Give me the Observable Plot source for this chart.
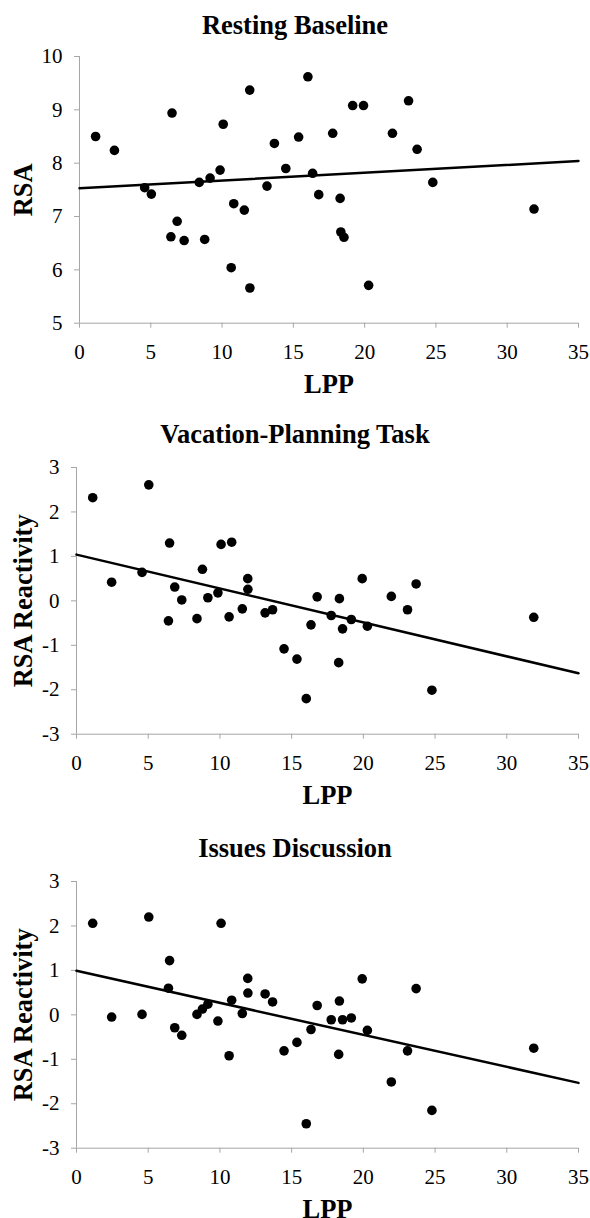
<!DOCTYPE html>
<html><head><meta charset="utf-8">
<script src="https://cdn.jsdelivr.net/npm/d3@7"></script>
<script src="https://cdn.jsdelivr.net/npm/@observablehq/plot@0.6"></script>
<style>
html,body{margin:0;padding:0;background:#fff;overflow:hidden}
#root{position:relative;width:590px;height:1218px;font-family:"Liberation Serif","Times New Roman",serif}
.title{position:absolute;left:0;width:590px;text-align:center;font-weight:bold;font-size:26.5px;line-height:30px;color:#000}
.panel{position:absolute;left:0}
.panel [aria-label="x-axis label"], .panel [aria-label="y-axis label"]{font-weight:bold;font-size:26.5px}
</style></head><body><div id="root"></div>
<script>
// LPP (shared x values for all three panels)
const lpp = [1.13, 2.45, 4.57, 5.04, 6.49, 6.41, 6.85, 7.34, 8.40, 8.78, 9.16, 9.86, 10.08, 10.64, 10.82, 11.56, 11.94, 11.95, 13.15, 13.67, 14.47, 15.37, 16.02, 16.35, 16.78, 17.76, 18.28, 18.33, 18.55, 19.16, 19.92, 20.28, 21.95, 23.08, 23.68, 24.78, 31.88];
// RSA values per panel
const restingRSA = [8.50, 8.24, 7.54, 7.42, 8.94, 6.62, 6.91, 6.55, 7.64, 6.57, 7.72, 7.87, 8.73, 6.04, 7.24, 7.12, 9.37, 5.66, 7.57, 8.37, 7.90, 8.49, 9.62, 7.81, 7.41, 8.56, 7.34, 6.71, 6.61, 9.08, 9.08, 5.71, 8.56, 9.17, 8.26, 7.64, 7.14];
const vacationRSA = [2.32, 0.42, 0.64, 2.61, 1.30, -0.45, 0.31, 0.02, -0.40, 0.71, 0.07, 0.18, 1.27, -0.36, 1.32, -0.18, 0.50, 0.26, -0.27, -0.20, -1.08, -1.31, -2.20, -0.54, 0.09, -0.33, -1.39, 0.05, -0.63, -0.42, 0.50, -0.57, 0.10, -0.20, 0.38, -2.01, -0.37];
const issuesRSA = [2.06, -0.05, 0.01, 2.20, 1.22, 0.60, -0.29, -0.46, 0.01, 0.13, 0.24, -0.14, 2.06, -0.92, 0.33, 0.03, 0.82, 0.49, 0.47, 0.29, -0.81, -0.62, -2.45, -0.33, 0.21, -0.11, -0.89, 0.31, -0.11, -0.07, 0.81, -0.35, -1.51, -0.81, 0.59, -2.15, -0.75];
// Trend line end points
const trendX = [0, 35];
const restingTrend = [7.53, 8.04];
const vacationTrend = [1.04, -1.63];
const issuesTrend = [0.99, -1.53];
// Labels and ticks
const titles = ["Resting Baseline", "Vacation-Planning Task", "Issues Discussion"];
const xLabel = "LPP";
const yLabels = ["RSA", "RSA Reactivity", "RSA Reactivity"];
const xTicks = [0, 5, 10, 15, 20, 25, 30, 35];
const restingTicks = [5, 6, 7, 8, 9, 10];
const reactTicks = [-3, -2, -1, 0, 1, 2, 3];

const gray = "#a6a6a6";
const root = document.getElementById("root");

const panels = [
  {title: titles[0], titleTop: 9.8, svgTop: 0, values: restingRSA, trend: restingTrend, domain: [5, 10], ticks: restingTicks, label: yLabels[0], marginLeft: 79, labelOffset: 66},
  {title: titles[1], titleTop: 418.8, svgTop: 411.3, values: vacationRSA, trend: vacationTrend, domain: [-3, 3], ticks: reactTicks, label: yLabels[1], marginLeft: 76, labelOffset: 63},
  {title: titles[2], titleTop: 832.8, svgTop: 824.7, values: issuesRSA, trend: issuesTrend, domain: [-3, 3], ticks: reactTicks, label: yLabels[2], marginLeft: 76, labelOffset: 63}
];

for (const cfg of panels) {
  const t = document.createElement("div");
  t.className = "title";
  t.style.top = cfg.titleTop + "px";
  t.textContent = cfg.title;
  root.appendChild(t);

  const rows = lpp.map((x, i) => ({x, y: cfg.values[i]}));
  const trend = trendX.map((x, i) => ({x, y: cfg.trend[i]}));
  const svg = Plot.plot({
    width: 590, height: 393,
    marginTop: 56, marginBottom: 70.3, marginLeft: cfg.marginLeft, marginRight: 12,
    style: {fontFamily: '"Liberation Serif", "Times New Roman", serif', fontSize: "21px", color: "#000", background: "transparent", overflow: "visible"},
    x: {domain: [0, 35]},
    y: {domain: cfg.domain},
    marks: [
      Plot.ruleX([0], {stroke: gray, strokeWidth: 1}),
      Plot.ruleY([cfg.domain[0]], {stroke: gray, strokeWidth: 1}),
      Plot.axisX(xTicks, {tickSize: 5, tickPadding: 16, stroke: gray, fontSize: 21, tickFormat: d => String(d), label: xLabel, labelAnchor: "center", labelArrow: "none", labelOffset: 70}),
      Plot.axisY(cfg.ticks, {tickSize: 5, tickPadding: 12, stroke: gray, fontSize: 21, tickFormat: d => String(d), label: cfg.label, labelAnchor: "center", labelArrow: "none", labelOffset: cfg.labelOffset}),
      Plot.line(trend, {x: "x", y: "y", stroke: "#000", strokeWidth: 2.5}),
      Plot.dot(rows, {x: "x", y: "y", r: 4.8, fill: "#000", stroke: "none"})
    ]
  });
  svg.classList.add("panel");
  svg.style.top = cfg.svgTop + "px";
  root.appendChild(svg);
}
</script></body></html>
